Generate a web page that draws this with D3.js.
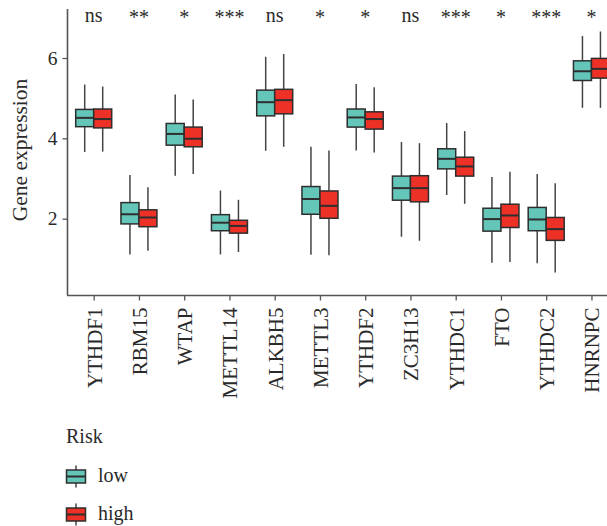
<!DOCTYPE html>
<html>
<head>
<meta charset="utf-8">
<script src="https://cdn.jsdelivr.net/npm/d3@7"></script>
<style>
html,body{margin:0;padding:0;background:#fff;}
svg{display:block;font-family:"Liberation Serif","Times New Roman",serif;}
</style>
</head>
<body>
<svg id="chart" width="607" height="526"></svg>
<script>
const genes = ["YTHDF1","RBM15","WTAP","METTL14","ALKBH5","METTL3","YTHDF2","ZC3H13","YTHDC1","FTO","YTHDC2","HNRNPC"];
const sigLabels = ["ns","**","*","***","ns","*","*","ns","***","*","***","*"];
const yTicks = [2,4,6];
const groups = ["low","high"];
const legendTitle = "Risk";

const lowMin  = [3.66,1.11,3.07,1.11,3.69,1.10,3.70,1.55,2.59,0.90,0.89,4.76];
const lowQ1   = [4.29,1.87,3.83,1.70,4.56,2.11,4.28,2.46,3.24,1.69,1.70,5.44];
const lowMed  = [4.51,2.11,4.11,1.90,4.90,2.49,4.52,2.76,3.49,1.99,1.98,5.67];
const lowQ3   = [4.72,2.40,4.37,2.10,5.20,2.80,4.73,3.06,3.74,2.26,2.28,5.93];
const lowMax  = [5.34,3.09,5.09,2.70,6.03,3.79,5.35,3.91,4.38,3.04,3.11,6.55];

const highMin = [3.67,1.20,3.11,1.17,3.79,1.09,3.65,1.45,2.37,0.92,0.66,4.76];
const highQ1  = [4.26,1.80,3.79,1.64,4.61,2.01,4.23,2.42,3.06,1.78,1.46,5.50];
const highMed = [4.48,2.03,3.99,1.82,4.95,2.32,4.48,2.76,3.30,2.08,1.74,5.73];
const highQ3  = [4.73,2.22,4.28,1.96,5.22,2.69,4.66,3.07,3.53,2.36,2.03,5.99];
const highMax = [5.29,2.78,4.97,2.47,6.10,3.70,5.27,3.88,4.18,3.17,2.88,6.66];

const colors = {low:"#63c6b9", high:"#ee3126"};
const strokeCol = "#2e2e2e";

const svg = d3.select("#chart");
const step = 45.25;
const x = d3.scalePoint().domain(genes).range([93.7, 93.7 + (genes.length-1)*step]);
const y = d3.scaleLinear().domain([0.1, 7.195]).range([295, 10]);
const boxW = 18;

const stats = [];
genes.forEach((g,i)=>{
  stats.push({gene:g, group:"low", min:lowMin[i], q1:lowQ1[i], med:lowMed[i], q3:lowQ3[i], max:lowMax[i]});
  stats.push({gene:g, group:"high", min:highMin[i], q1:highQ1[i], med:highMed[i], q3:highQ3[i], max:highMax[i]});
});
const cx = d => x(d.gene) + (d.group==="low" ? -boxW/2 : boxW/2);

const yAxis = svg.append("g").attr("transform","translate(67.5,0)")
  .call(d3.axisLeft(y).tickValues(yTicks).tickSize(5).tickPadding(5).tickFormat(d3.format("d")));
yAxis.select(".domain").attr("d","M0,9V295.5").attr("stroke","#555").attr("stroke-width",1.6);
yAxis.selectAll(".tick line").attr("stroke","#555").attr("stroke-width",1.3);
yAxis.selectAll(".tick text").attr("font-size",19.5).attr("fill","#2a2a2a")
  .attr("font-family","Liberation Serif, serif");

const xAxis = svg.append("g").attr("transform","translate(0,295.5)")
  .call(d3.axisBottom(x).tickSize(5).tickPadding(6));
xAxis.select(".domain").attr("d","M67,0H620").attr("stroke","#555").attr("stroke-width",1.6);
xAxis.selectAll(".tick line").attr("stroke","#555").attr("stroke-width",1.3);
xAxis.selectAll(".tick text")
  .attr("font-size",21).attr("fill","#2a2a2a").attr("font-family","Liberation Serif, serif")
  .attr("text-anchor","end").attr("transform","rotate(-90)")
  .attr("x",-12).attr("y",0).attr("dy","0.35em");

svg.append("text").attr("transform","translate(27,150) rotate(-90)")
  .attr("text-anchor","middle").attr("font-size",21.5).attr("fill","#2a2a2a")
  .text("Gene expression");

svg.append("g").selectAll("line").data(stats).join("line")
  .attr("x1",cx).attr("x2",cx)
  .attr("y1",d=>y(d.max)).attr("y2",d=>y(d.min))
  .attr("stroke","#444").attr("stroke-width",1.5);

svg.append("g").selectAll("rect").data(stats).join("rect")
  .attr("x",d=>cx(d)-boxW/2).attr("width",boxW)
  .attr("y",d=>y(d.q3)).attr("height",d=>y(d.q1)-y(d.q3))
  .attr("fill",d=>colors[d.group]).attr("stroke",strokeCol).attr("stroke-width",1.5);

svg.append("g").selectAll("line").data(stats).join("line")
  .attr("x1",d=>cx(d)-boxW/2).attr("x2",d=>cx(d)+boxW/2)
  .attr("y1",d=>y(d.med)).attr("y2",d=>y(d.med))
  .attr("stroke",strokeCol).attr("stroke-width",2);

svg.append("g").selectAll("text").data(genes).join("text")
  .attr("x",d=>x(d)).attr("y",(d,i)=> sigLabels[i]==="ns" ? 22 : 24)
  .attr("text-anchor","middle")
  .attr("font-size",(d,i)=> sigLabels[i]==="ns" ? 20 : 20)
  .attr("fill","#2a2a2a")
  .text((d,i)=>sigLabels[i]);

const lg = svg.append("g");
lg.append("text").attr("x",66).attr("y",443).attr("font-size",20).attr("fill","#2a2a2a").text(legendTitle);
groups.forEach((g,i)=>{
  const cy = 476.5 + i*38;
  const kx = 76;
  lg.append("line").attr("x1",kx).attr("x2",kx).attr("y1",cy-11).attr("y2",cy+11)
    .attr("stroke","#444").attr("stroke-width",1.5);
  lg.append("rect").attr("x",kx-9.5).attr("y",cy-6.5).attr("width",19).attr("height",13)
    .attr("fill",colors[g]).attr("stroke",strokeCol).attr("stroke-width",1.5);
  lg.append("line").attr("x1",kx-9.5).attr("x2",kx+9.5).attr("y1",cy).attr("y2",cy)
    .attr("stroke",strokeCol).attr("stroke-width",2);
  lg.append("text").attr("x",98).attr("y",cy+5.5).attr("font-size",20).attr("fill","#2a2a2a").text(g);
});
</script>
</body>
</html>
